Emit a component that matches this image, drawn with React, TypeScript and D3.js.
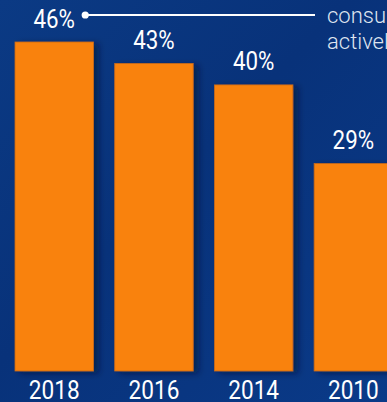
import React from "react";
import * as d3 from "d3";

const years = ["2018", "2016", "2014", "2010"];
const shares = [46, 43, 40, 29];
const noteLines = ["consumers", "actively"];

const W = 387;
const H = 402;

export default function App() {
  const x = d3
    .scaleBand<string>()
    .domain(years)
    .range([15, 392.6])
    .paddingInner(0.213)
    .paddingOuter(0);
  const y = d3.scaleLinear().domain([0, 46]).range([371, 42]);
  const bw = x.bandwidth();
  const first = years[0];
  const dotX = (x(first) as number) + bw / 2 + 31;
  const dotY = y(shares[0]) - 27;

  return (
    <svg
      width={W}
      height={H}
      style={{ position: "fixed", left: 0, top: 0, display: "block" }}
      fontFamily="Roboto, 'Noto Sans', sans-serif"
    >
      <defs>
        <linearGradient id="bg" x1="0" y1="0" x2="1" y2="1">
          <stop offset="0%" stopColor="#0b3a84" />
          <stop offset="45%" stopColor="#08327a" />
          <stop offset="100%" stopColor="#0a3a88" />
        </linearGradient>
        <filter id="shadow" x="-20%" y="-10%" width="160%" height="130%">
          <feDropShadow dx="5" dy="2" stdDeviation="3" floodColor="#001232" floodOpacity="0.55" />
        </filter>
      </defs>
      <rect width={W} height={H} fill="url(#bg)" />

      {years.map((yr, i) => {
        const bx = x(yr) as number;
        const top = y(shares[i]);
        return (
          <rect
            key={yr}
            x={bx}
            y={top}
            width={bw}
            height={y(0) - top}
            fill="#f9820a"
            stroke="#c8691a"
            strokeWidth={0.8}
            filter="url(#shadow)"
          />
        );
      })}

      {years.map((yr, i) => {
        const cx = (x(yr) as number) + bw / 2;
        return (
          <g key={"v" + yr} transform={`translate(${cx},${y(shares[i]) - 14.5}) scale(0.86,1)`}>
            <text textAnchor="middle" fontSize={26} fill="#ffffff">
              {shares[i]}%
            </text>
          </g>
        );
      })}

      {years.map((yr) => {
        const cx = (x(yr) as number) + bw / 2;
        return (
          <g key={"y" + yr} transform={`translate(${cx},399) scale(0.87,1)`}>
            <text textAnchor="middle" fontSize={26} fill="#ffffff">
              {yr}
            </text>
          </g>
        );
      })}

      <line x1={dotX} x2={315} y1={dotY} y2={dotY} stroke="#ffffff" strokeWidth={2} />
      <circle cx={dotX} cy={dotY} r={3.6} fill="#ffffff" />
      {noteLines.map((t, i) => (
        <text
          key={t}
          x={327}
          y={23 + i * 25.7}
          fontSize={22}
          fontWeight={300}
          fill="#dfe5f0"
        >
          {t}
        </text>
      ))}
    </svg>
  );
}
